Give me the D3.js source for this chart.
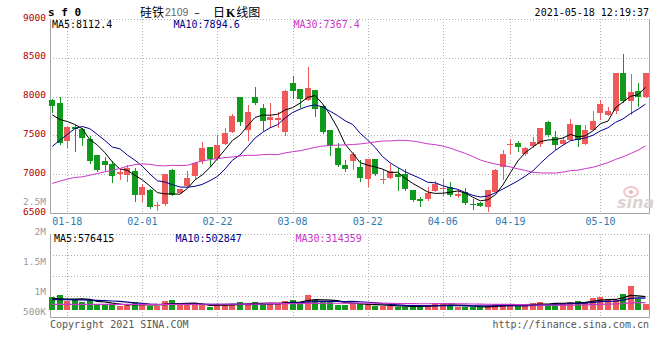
<!DOCTYPE html>
<html>
<head>
<meta charset="utf-8">
<script src="https://cdn.jsdelivr.net/npm/d3@7"></script>
<style>
body { margin: 0; background: #fff; }
svg text { font-family: "DejaVu Sans Mono", monospace; }
</style>
</head>
<body>
<div id="vis"></div>
<script>
// trading days shown (2021)
const dates = ["01-14","01-15","01-18","01-19","01-20","01-21","01-22","01-25","01-26","01-27","01-28","01-29",
  "02-01","02-02","02-03","02-04","02-05","02-08","02-09","02-10","02-18","02-19",
  "02-22","02-23","02-24","02-25","02-26","03-01","03-02","03-03","03-04","03-05",
  "03-08","03-09","03-10","03-11","03-12","03-15","03-16","03-17","03-18","03-19",
  "03-22","03-23","03-24","03-25","03-26","03-29","03-30","03-31","04-01","04-02",
  "04-06","04-07","04-08","04-09",
  "04-12","04-13","04-14","04-15","04-16",
  "04-19","04-20","04-21","04-22","04-23",
  "04-26","04-27","04-28","04-29","04-30",
  "05-06","05-07",
  "05-10","05-11","05-12","05-13","05-14",
  "05-17","05-18"];

const open = [7960,7914,7427,7606,7577,7449,7243,7171,7137,7004,
  6987,7038,6731,6795,6586,6615,7051,6760,6846,6974,
  7171,7350,7201,7385,7542,7991,7564,8000,7855,7700,
  7701,7550,8171,8099,7961,8086,7884,7564,7342,7124,
  7171,7094,6936,7192,6923,6953,7009,7000,6795,6676,
  6676,6786,6804,6829,6722,6773,6615,6632,6581,6773,
  7094,7380,7401,7256,7359,7385,7670,7478,7393,7445,
  7628,7393,7573,7786,7769,7812,8304,7940,8077,8000];
const high = [7965,7990,7615,7628,7600,7487,7252,7222,7166,7073,
  7115,7086,6872,6804,6645,7000,7073,6810,7038,7158,
  7414,7355,7500,7599,7778,7995,7897,8119,7906,7920,
  7799,8080,8260,8100,8385,8090,7890,7565,7406,7180,
  7286,7180,7195,7195,7051,7128,7086,7073,6800,6709,
  6829,6914,6932,6901,6804,6817,6676,6640,6800,7065,
  7317,7457,7423,7345,7478,7600,7692,7555,7478,7714,
  7630,7628,7812,7958,7863,8300,8555,8291,8171,8300];
const low = [7800,7395,7350,7300,7372,7150,7035,7050,6900,6932,
  6914,6658,6658,6570,6540,6600,6731,6755,6840,6945,
  7145,7103,7195,7385,7540,7628,7445,7910,7573,7606,
  7606,7500,7983,7863,7955,7756,7530,7243,7110,7038,
  7073,6914,6846,6995,6881,6945,6795,6795,6660,6590,
  6670,6780,6731,6725,6701,6620,6547,6585,6530,6770,
  6932,7273,7299,7243,7355,7359,7487,7329,7385,7440,
  7359,7390,7570,7714,7765,7786,7935,7778,7884,7995];
const close = [7876,7400,7606,7577,7470,7171,7060,7115,6974,7022,
  7081,6731,6829,6573,6599,7000,6731,6808,6945,7145,
  7337,7201,7372,7526,7744,7670,7799,7914,7683,7735,
  7727,8077,8068,7970,8111,7842,7542,7359,7115,7073,
  7256,6945,7192,7000,6932,7038,6966,6804,6667,6658,
  6760,6872,6817,6731,6740,6624,6603,6590,6795,7060,
  7256,7393,7350,7342,7414,7599,7500,7372,7445,7650,
  7436,7573,7692,7906,7812,8299,7940,8064,8000,8299];
const volume = [635000,750000,467000,533000,417000,500000,250000,300000,250000,200000,
  250000,383000,250000,200000,200000,450000,500000,250000,250000,250000,
  250000,167000,283000,283000,283000,383000,300000,383000,333000,333000,
  283000,450000,500000,383000,750000,500000,417000,417000,250000,250000,
  367000,283000,250000,200000,200000,200000,167000,167000,167000,200000,
  250000,283000,283000,250000,167000,167000,133000,133000,200000,250000,
  300000,250000,200000,283000,333000,400000,283000,333000,333000,400000,
  450000,400000,600000,633000,500000,500000,800000,1200000,533000,300000];

// moving-average values before a full window exists (history not shown)
const ma5Head = [7765,7705,7679,7641];
const ma10Head = [7359,7436,7513,7586,7615,7586,7513,7436,7350];
const ma30Head = [6881,6910,6936,6958,6966,6987,7009,7030,7051,7073,
  7103,7124,7132,7128,7111,7107,7115,7111,7115,7145,
  7171,7188,7201,7214,7222,7235,7243,7243,7252];
const vMa5Head = [583000,560000,545000,540000];
const vMa10Head = [520000,518000,515000,510000,505000,495000,480000,465000,450000];
const vMa30Head = [285000,285000,285000,285000,285000,285000,285000,285000,285000,285000,
  285000,285000,285000,285000,285000,285000,285000,285000,285000,285000,
  288000,288000,288000,288000,288000,290000,290000,290000,290000];

const priceTicks = [6500,7000,7500,8000,8500,9000];
const volTicks = [500000,1000000,1500000,2000000];
const volTickLabels = ["500K","1M","1.5M","2M"];
const dateTicks = ["01-18","02-01","02-22","03-08","03-22","04-06","04-19","05-10"];

const priceMaText = ["MA5:8112.4","MA10:7894.6","MA30:7367.4"];
const volMaText = ["MA5:576415","MA10:502847","MA30:314359"];

const RED = "#ef5959", GREEN = "#0f9a1c";
const MA_COLORS = ["#000000","#00008c","#c936c9"];

function movingAvg(values, n, head) {
  return values.map((v, i) => i < n - 1 ? head[i] : d3.mean(values.slice(i - n + 1, i + 1)));
}

const rows = dates.map((d, i) => ({d: d, o: open[i], h: high[i], l: low[i], c: close[i], v: volume[i]}));
const priceMa = [movingAvg(close, 5, ma5Head), movingAvg(close, 10, ma10Head), movingAvg(close, 30, ma30Head)];
const volMa = [movingAvg(volume, 5, vMa5Head), movingAvg(volume, 10, vMa10Head), movingAvg(volume, 30, vMa30Head)];

const L = 50, R = 649;

const x = d3.scaleBand().domain(dates).range([48.5, 649.3]);
const cx = d => x(d) + x.bandwidth() / 2;
const y = d3.scaleLinear().domain([6500, 9000]).range([213, 19]);
const vy = d3.scaleLinear().domain([0, 1000000]).range([310, 290]);
const vLab = d3.scaleLinear().domain(volTicks).range([311, 291, 261, 231]);
const vGrid = d3.scaleLinear().domain([0, 4]).range([317, 234]);
const px = v => Math.round(v) + 0.5;

const svg = d3.select("#vis").append("svg")
  .attr("width", 660).attr("height", 360);

// ---- grid ----
const grid = svg.append("g")
  .attr("stroke", "#b0b0b0").attr("stroke-dasharray", "1,2").attr("fill", "none");

grid.selectAll(".hp").data(priceTicks.filter(v => v > 6500)).join("line")
  .attr("x1", L).attr("x2", R)
  .attr("y1", v => px(y(v))).attr("y2", v => px(y(v)));

grid.selectAll(".hv").data([1, 2, 3, 4]).join("line")
  .attr("x1", L).attr("x2", R)
  .attr("y1", k => px(vGrid(k))).attr("y2", k => px(vGrid(k)));

grid.selectAll(".vp").data(dateTicks).join("line")
  .attr("x1", d => px(cx(d))).attr("x2", d => px(cx(d)))
  .attr("y1", y(9000)).attr("y2", y(6500));

grid.selectAll(".vv").data(dateTicks).join("line")
  .attr("x1", d => px(cx(d))).attr("x2", d => px(cx(d)))
  .attr("y1", vGrid(4)).attr("y2", vGrid(0));

// ---- borders ----
const border = svg.append("g").attr("stroke", "#a4a4a4").attr("fill", "none");
border.append("path").attr("d", `M${L + 0.5},${y(9000)}V${px(y(6500))}H${R + 0.5}V${y(9000)}`);
border.append("path").attr("d", `M${L + 0.5},${vGrid(4)}V${px(vGrid(0))}H${R + 0.5}V${vGrid(4)}`);

// ---- sina watermark ----
const wm = svg.append("g");
wm.append("ellipse").attr("cx", 631).attr("cy", 192).attr("rx", 7).attr("ry", 5)
  .attr("fill", "none").attr("stroke", "#f2c4c4").attr("stroke-width", 2);
wm.append("circle").attr("cx", 631).attr("cy", 192).attr("r", 2).attr("fill", "#eeb4b4");
wm.append("text").attr("x", 617).attr("y", 208)
  .style("font-family", "DejaVu Sans").style("font-style", "italic").style("font-weight", "bold")
  .style("font-size", "16px").attr("fill", "#dcd2d2").text("sina");

// ---- candles ----
const candles = svg.append("g");
candles.selectAll("line").data(rows).join("line")
  .attr("x1", r => px(cx(r.d))).attr("x2", r => px(cx(r.d)))
  .attr("y1", r => Math.round(y(r.h))).attr("y2", r => Math.round(y(r.l)) + 1)
  .attr("stroke", r => r.c >= r.o ? RED : GREEN);
candles.selectAll("rect").data(rows).join("rect")
  .attr("x", r => Math.round(cx(r.d)) - 3).attr("width", 6)
  .attr("y", r => Math.round(y(Math.max(r.o, r.c))))
  .attr("height", r => Math.max(1, Math.round(y(Math.min(r.o, r.c))) - Math.round(y(Math.max(r.o, r.c)))))
  .attr("fill", r => r.c >= r.o ? RED : GREEN);

// ---- volume bars ----
svg.append("g").selectAll("rect").data(rows).join("rect")
  .attr("x", r => Math.round(cx(r.d)) - 3).attr("width", 6)
  .attr("y", r => Math.round(vy(r.v)))
  .attr("height", r => vy(0) - Math.round(vy(r.v)))
  .attr("fill", r => r.c >= r.o ? RED : GREEN);

// ---- moving averages ----
const priceLine = d3.line().x((v, i) => cx(dates[i])).y(v => y(v));
const volLine = d3.line().x((v, i) => cx(dates[i])).y(v => vy(v));
svg.append("g").attr("fill", "none").selectAll("path").data(priceMa).join("path")
  .attr("d", priceLine).attr("stroke", (s, i) => MA_COLORS[i]).attr("stroke-width", 1);
svg.append("g").attr("fill", "none").selectAll("path").data(volMa).join("path")
  .attr("d", volLine).attr("stroke", (s, i) => MA_COLORS[i]).attr("stroke-width", 1.2);

// ---- axes ----
const yAxis = svg.append("g").attr("transform", `translate(${L},-2)`)
  .call(d3.axisLeft(y).tickValues(priceTicks).tickSize(0).tickPadding(4).tickFormat(d3.format("d")));
yAxis.select(".domain").remove();
yAxis.selectAll("text").attr("fill", "#b00000").style("font-family", "DejaVu Sans Mono").style("font-size", "9.5px");

const vAxis = svg.append("g").attr("transform", `translate(${L},0)`)
  .call(d3.axisLeft(vLab).tickValues(volTicks).tickSize(0).tickPadding(4)
    .tickFormat((v, i) => volTickLabels[i]));
vAxis.select(".domain").remove();
vAxis.selectAll("text").attr("fill", "#999").style("font-family", "DejaVu Sans Mono").style("font-size", "9.5px");

// stray volume label sitting inside the price panel
svg.append("text").attr("x", 46).attr("y", 204.5).attr("text-anchor", "end")
  .attr("fill", "#999").style("font-size", "9.5px").text("2.5M");

const xAxis = svg.append("g").attr("transform", `translate(0,${y(6500)})`)
  .call(d3.axisBottom(x).tickValues(dateTicks).tickSize(0).tickPadding(5));
xAxis.select(".domain").remove();
xAxis.selectAll("text").attr("fill", "#2d7ab0").style("font-family", "DejaVu Sans Mono").style("font-size", "10px");

// ---- MA labels ----
const labelX = [52, 173.5, 293.5];
svg.append("g").selectAll("text").data(priceMaText).join("text")
  .attr("x", (t, i) => labelX[i]).attr("y", 27.5)
  .attr("fill", (t, i) => MA_COLORS[i]).style("font-size", "10px").text(t => t);
svg.append("g").selectAll("text").data(volMaText).join("text")
  .attr("x", (t, i) => labelX[i] + 2).attr("y", 241.8)
  .attr("fill", (t, i) => MA_COLORS[i]).style("font-size", "10px").text(t => t);

// ---- title & footer ----
svg.append("text").attr("x", 48).attr("y", 16)
  .style("font-weight", "bold").style("font-size", "11px").attr("fill", "#000").text("s f 0");
svg.append("text").attr("x", 140).attr("y", 16.5)
  .style("font-family", "Noto Sans CJK SC").style("font-size", "12px").attr("fill", "#000").text("硅铁");
svg.append("text").attr("x", 165).attr("y", 16)
  .style("font-family", "Liberation Sans").style("font-size", "10.5px").attr("fill", "#666").text("2109");
svg.append("text").attr("x", 197).attr("y", 16).attr("text-anchor", "middle")
  .style("font-family", "DejaVu Sans").style("font-size", "11px").attr("fill", "#000").text("–");
const kTitle = svg.append("text").attr("x", 213).attr("y", 16.5)
  .style("font-family", "Noto Sans CJK SC").style("font-size", "12px").attr("fill", "#000");
kTitle.append("tspan").text("日");
kTitle.append("tspan").attr("dx", 1).style("font-family", "Liberation Serif").style("font-weight", "bold").text("K");
kTitle.append("tspan").attr("dx", 1).text("线图");
svg.append("text").attr("x", R).attr("y", 15.5).attr("text-anchor", "end")
  .style("font-size", "10px").attr("fill", "#000").text("2021-05-18 12:19:37");

svg.append("text").attr("x", L).attr("y", 327.5)
  .style("font-size", "10px").attr("fill", "#555").text("Copyright 2021 SINA.COM");
svg.append("text").attr("x", R).attr("y", 327.5).attr("text-anchor", "end")
  .style("font-size", "10px").attr("fill", "#555").text("http://finance.sina.com.cn");
</script>
</body>
</html>
